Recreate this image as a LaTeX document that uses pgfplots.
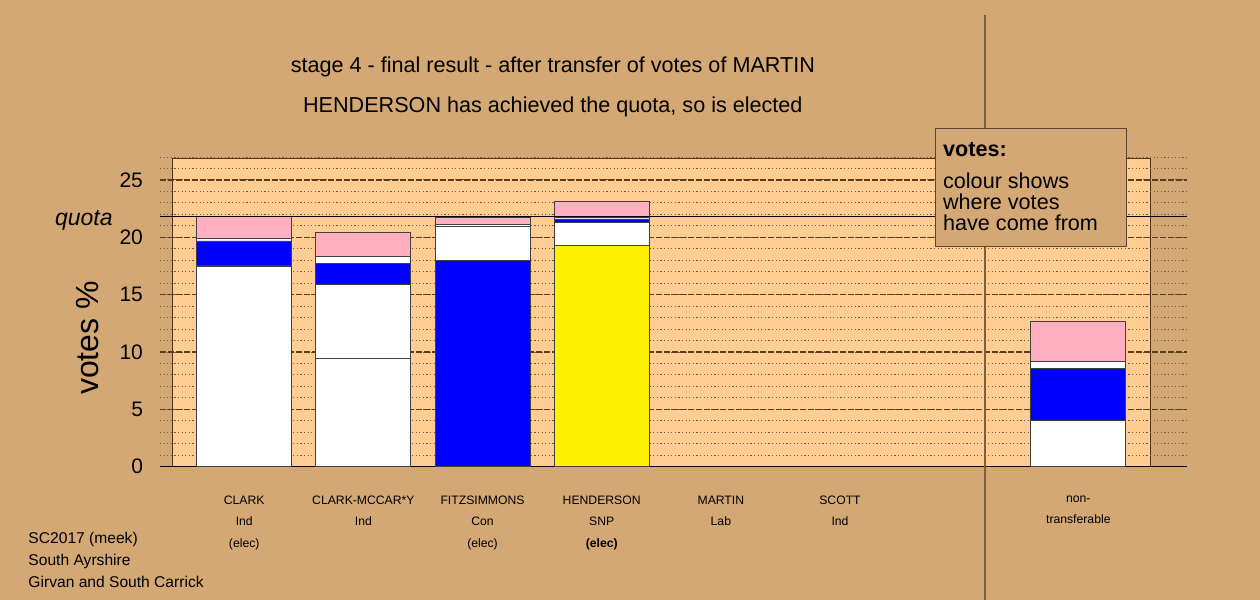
\documentclass[border=0pt]{standalone}
\usepackage{fontspec}
\setmainfont{Liberation Sans}
\usepackage{pgfplots}
\pgfplotsset{compat=1.18}

\definecolor{bgtan}{RGB}{212,168,117}
\definecolor{panel}{RGB}{255,204,145}
\definecolor{votepink}{RGB}{255,176,192}
\definecolor{gridbrown}{RGB}{90,62,32}
\definecolor{sepline}{RGB}{125,95,60}
\definecolor{boxline}{RGB}{90,70,50}

\begin{document}
\begin{tikzpicture}
% page background and plot panel (1 px of the reference = 0.5pt)
\fill[bgtan] (-80pt,-66.65pt) rectangle (550pt,233.35pt);
\filldraw[fill=panel, draw=black!60!brown, line width=0.5pt] (6.5pt,0pt) rectangle (495pt,154.27pt);
\begin{axis}[
  at={(0,0)}, anchor=south west,
  scale only axis,
  width=513.5pt, height=154.85pt,
  xmin=-0.707, xmax=7.912,
  ymin=0, ymax=27,
  clip=false,
  axis line style={draw=none},
  major tick length=0pt, minor tick length=0pt,
  ybar stacked,
  bar width=47.5pt,
  every axis plot/.append style={draw=black!75, line width=0.4pt},
  ytick={0,5,...,25},
  minor ytick={0,1,...,27},
  ymajorgrids, yminorgrids,
  major grid style={gridbrown, line width=0.6pt, dash pattern=on 2.8pt off 1.2pt},
  minor grid style={gridbrown!85, line width=0.45pt, dash pattern=on 0.6pt off 1.2pt},
  /pgf/number format/assume math mode=true,
  yticklabel style={font=\fontsize{10.5}{12}\selectfont, xshift=-5pt},
  xtick={0,1,2,3,4,5,7},
  xticklabels={{CLARK\\Ind\\(elec)},{CLARK-MCCAR*Y\\Ind},{FITZSIMMONS\\Con\\(elec)},{HENDERSON\\SNP\\\textbf{(elec)}},{MARTIN\\Lab},{SCOTT\\Ind},{non-\\transferable}},
  xticklabel style={font=\fontsize{6.1}{10.75}\selectfont, align=center, anchor=north, yshift=-11pt},
]

% quota line, behind the bars
\draw[black, line width=0.7pt] (axis cs:-0.707,21.8) -- (axis cs:7.912,21.8);

% own first preferences
\addplot[fill=white] coordinates {(0,17.50) (1,9.45) (2,0) (3,0) (4,0) (5,0) (7,0)};
\addplot[fill=blue] coordinates {(0,0) (1,0) (2,17.96) (3,0) (4,0) (5,0) (7,0)};
\addplot[fill=yellow] coordinates {(0,0) (1,0) (2,0) (3,19.33) (4,0) (5,0) (7,0)};
% transfers from CLARK (Ind)
\addplot[fill=white] coordinates {(0,0) (1,6.45) (2,3.02) (3,1.97) (4,0) (5,0) (7,4.07)};
% transfers from FITZSIMMONS (Con)
\addplot[fill=blue] coordinates {(0,2.18) (1,1.83) (2,0) (3,0.30) (4,0) (5,0) (7,4.51)};
% transfers from SCOTT (Ind)
\addplot[fill=white] coordinates {(0,0.22) (1,0.57) (2,0.12) (3,0.10) (4,0) (5,0) (7,0.62)};
% transfers from MARTIN (Lab)
\addplot[fill=votepink] coordinates {(0,1.90) (1,2.16) (2,0.63) (3,1.46) (4,0) (5,0) (7,3.50)};

\draw[black, line width=0.7pt] (axis cs:-0.707,0) -- (axis cs:7.912,0);

% titles
\node[anchor=base, inner sep=0, font=\fontsize{10.8}{12}\selectfont] at (axis cs:2.59,34.37) {stage 4 - final result - after transfer of votes of MARTIN};
\node[anchor=base, inner sep=0, font=\fontsize{10.8}{12}\selectfont] at (axis cs:2.59,30.92) {HENDERSON has achieved the quota, so is elected};

% axis texts
\node[anchor=base east, inner sep=0, font=\fontsize{11.5}{13}\selectfont\itshape] at (axis cs:-0.707,21.07) [xshift=-23.5pt] {quota};
\node[rotate=90, inner sep=0, font=\fontsize{16}{18}\selectfont] at (axis cs:-1.311,11.22) {votes \%};

% footer
\node[anchor=base west, inner sep=0, font=\fontsize{7.8}{10}\selectfont] at (axis cs:-1.814,-6.70) {SC2017 (meek)};
\node[anchor=base west, inner sep=0, font=\fontsize{7.8}{10}\selectfont] at (axis cs:-1.814,-8.62) {South Ayrshire};
\node[anchor=base west, inner sep=0, font=\fontsize{7.8}{10}\selectfont] at (axis cs:-1.814,-10.53) {Girvan and South Carrick};

% anchors for the separator and the key, drawn after the axis
\coordinate (sepbot) at (axis cs:6.217,-11.62);
\coordinate (septop) at (axis cs:6.217,39.38);
\coordinate (keytl) at (axis cs:5.803,29.50);
\coordinate (keybr) at (axis cs:7.40,19.18);
\coordinate (k1) at (axis cs:5.862,27.0);
\coordinate (k2) at (axis cs:5.862,24.28);
\coordinate (k3) at (axis cs:5.862,22.38);
\coordinate (k4) at (axis cs:5.862,20.55);
\end{axis}
\draw[sepline, line width=0.8pt] (sepbot) -- (septop);
\filldraw[fill=bgtan, draw=boxline, line width=0.5pt] (keytl) rectangle (keybr);
\node[anchor=base west, inner sep=0, font=\fontsize{10.8}{12}\selectfont\bfseries] at (k1) {votes:};
\node[anchor=base west, inner sep=0, font=\fontsize{10.8}{12}\selectfont] at (k2) {colour shows};
\node[anchor=base west, inner sep=0, font=\fontsize{10.8}{12}\selectfont] at (k3) {where votes};
\node[anchor=base west, inner sep=0, font=\fontsize{10.8}{12}\selectfont] at (k4) {have come from};
\pgfresetboundingbox
\path[use as bounding box] (-80pt,-66.65pt) rectangle (550pt,233.35pt);
\end{tikzpicture}
\end{document}
